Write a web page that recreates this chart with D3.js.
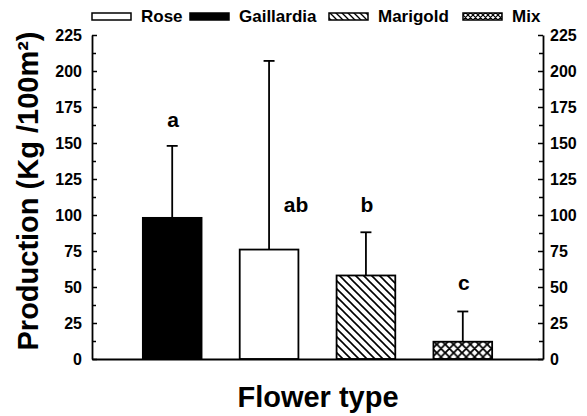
<!DOCTYPE html>
<html>
<head>
<meta charset="utf-8">
<script src="https://cdn.jsdelivr.net/npm/d3@7"></script>
<style>
  body { margin: 0; background: #fff; }
  svg { display: block; }
  text { font-family: Arial, "Liberation Sans", Helvetica, sans-serif; font-weight: bold; fill: #000; }
</style>
</head>
<body>
<svg id="chart" width="587" height="416"></svg>
<script>
// ---- data ----
const categories = ["Gaillardia", "Rose", "Marigold", "Mix"];
const means = [98, 76, 58, 12];
const sds = [50, 131, 30, 21];
const letters = ["a", "ab", "b", "c"];
const letterAt = [161, 102, 102, 48];   // data-unit heights of the significance letters
const legendOrder = ["Rose", "Gaillardia", "Marigold", "Mix"];
const yTicks = [0, 25, 50, 75, 100, 125, 150, 175, 200, 225];
const yMinorTicks = [12.5, 37.5, 62.5, 87.5, 112.5, 137.5, 162.5, 187.5, 212.5];

// ---- layout ----
const svg = d3.select("#chart");
const pLeft = 92, pRight = 543, pTop = 35, pBottom = 359;

const x = d3.scaleBand().domain(categories).range([pLeft, pRight])
  .paddingInner(0.394).paddingOuter(0.525);
const y = d3.scaleLinear().domain([0, 225]).range([pBottom, pTop]);

// patterns
const defs = svg.append("defs");
function hatch(id, s, sw) {
  const p = defs.append("pattern").attr("id", id).attr("patternUnits", "userSpaceOnUse")
    .attr("width", s).attr("height", s);
  p.append("rect").attr("width", s).attr("height", s).attr("fill", "#fff");
  p.append("path").attr("d", `M0,0L${s},${s}M${-s/2},${s/2}L${s/2},${s*1.5}M${s/2},${-s/2}L${s*1.5},${s/2}`)
    .attr("stroke", "#000").attr("stroke-width", sw);
}
function cross(id, s, sw) {
  const p = defs.append("pattern").attr("id", id).attr("patternUnits", "userSpaceOnUse")
    .attr("width", s).attr("height", s);
  p.append("rect").attr("width", s).attr("height", s).attr("fill", "#fff");
  p.append("path").attr("d", `M0,0L${s},${s}M${s},0L0,${s}M${-s/2},${s/2}L${s/2},${s*1.5}M${s/2},${-s/2}L${s*1.5},${s/2}M${s/2},${-s/2}L${-s/2},${s/2}M${s*1.5},${s/2}L${s/2},${s*1.5}`)
    .attr("stroke", "#000").attr("stroke-width", sw);
}
hatch("hatchBar", 8, 1.6);
cross("crossBar", 8.4, 1.8);
hatch("hatchLeg", 6, 1.3);
cross("crossLeg", 5, 1.2);

const fillBar = { Gaillardia: "#000", Rose: "#fff", Marigold: "url(#hatchBar)", Mix: "url(#crossBar)" };
const fillLeg = { Gaillardia: "#000", Rose: "#fff", Marigold: "url(#hatchLeg)", Mix: "url(#crossLeg)" };

const rows = categories.map((c, i) => ({ c, m: means[i], sd: sds[i], l: letters[i], la: letterAt[i] }));

// error bars (drawn first so bars cover the lower part)
const capW = 11;
const eb = svg.append("g").attr("stroke", "#000").attr("stroke-width", 1.8);
eb.selectAll("line.v").data(rows).join("line").attr("class", "v")
  .attr("x1", d => x(d.c) + x.bandwidth() / 2).attr("x2", d => x(d.c) + x.bandwidth() / 2)
  .attr("y1", d => y(d.m)).attr("y2", d => y(d.m + d.sd));
eb.selectAll("line.cap").data(rows).join("line").attr("class", "cap")
  .attr("x1", d => x(d.c) + x.bandwidth() / 2 - capW / 2).attr("x2", d => x(d.c) + x.bandwidth() / 2 + capW / 2)
  .attr("y1", d => y(d.m + d.sd)).attr("y2", d => y(d.m + d.sd));

// bars
svg.append("g").selectAll("rect").data(rows).join("rect")
  .attr("x", d => x(d.c)).attr("width", x.bandwidth())
  .attr("y", d => y(d.m)).attr("height", d => y(0) - y(d.m))
  .attr("fill", d => fillBar[d.c]).attr("stroke", "#000").attr("stroke-width", 1.8);

// letters
const letterShift = { ab: 27 };
svg.append("g").selectAll("text").data(rows).join("text")
  .attr("x", d => x(d.c) + x.bandwidth() / 2 + (letterShift[d.l] || 1))
  .attr("y", d => y(d.la)).attr("text-anchor", "middle")
  .style("font-size", "21px").text(d => d.l);

// axes
function styleAxis(g) {
  g.selectAll("path.domain").attr("stroke", "#000").attr("stroke-width", 1.8);
  g.selectAll(".tick line").attr("stroke", "#000").attr("stroke-width", 1.5);
  g.selectAll(".tick text").style("font-size", "16px")
    .style("font-family", 'Arial, "Liberation Sans", sans-serif').style("font-weight", "bold");
}
const yl = svg.append("g").attr("transform", `translate(${pLeft},0)`)
  .call(d3.axisLeft(y).tickValues(yTicks).tickSize(-5).tickSizeOuter(0).tickPadding(10));
styleAxis(yl);
const ylm = svg.append("g").attr("transform", `translate(${pLeft},0)`)
  .call(d3.axisLeft(y).tickValues(yMinorTicks).tickSize(-4).tickSizeOuter(0).tickFormat(""));
styleAxis(ylm); ylm.select("path.domain").remove();

const yr = svg.append("g").attr("transform", `translate(${pRight},0)`)
  .call(d3.axisRight(y).tickValues(yTicks).tickSize(-5).tickSizeOuter(0).tickPadding(7));
styleAxis(yr);
const yrm = svg.append("g").attr("transform", `translate(${pRight},0)`)
  .call(d3.axisRight(y).tickValues(yMinorTicks).tickSize(-4).tickSizeOuter(0).tickFormat(""));
styleAxis(yrm); yrm.select("path.domain").remove();

const xa = svg.append("g").attr("transform", `translate(0,${pBottom})`)
  .call(d3.axisBottom(x).tickSize(0).tickSizeOuter(0).tickFormat(""));
styleAxis(xa);

// axis titles
svg.append("text").attr("transform", `translate(38,${(pTop + pBottom) / 2 - 6}) rotate(-90)`)
  .attr("text-anchor", "middle").style("font-size", "29px").text("Production (Kg /100m²)");
svg.append("text").attr("x", 318).attr("y", 407).attr("text-anchor", "middle")
  .style("font-size", "29px").text("Flower type");

// legend
const legStarts = [92, 190, 329, 463];
const leg = svg.append("g");
legendOrder.forEach((name, i) => {
  const g = leg.append("g").attr("transform", `translate(${legStarts[i]},0)`);
  g.append("rect").attr("x", 0).attr("y", 13).attr("width", 39).attr("height", 7)
    .attr("fill", fillLeg[name]).attr("stroke", "#000").attr("stroke-width", 1.5);
  g.append("text").attr("x", 49).attr("y", 21.5).style("font-size", "17px").text(name);
});
</script>
</body>
</html>
